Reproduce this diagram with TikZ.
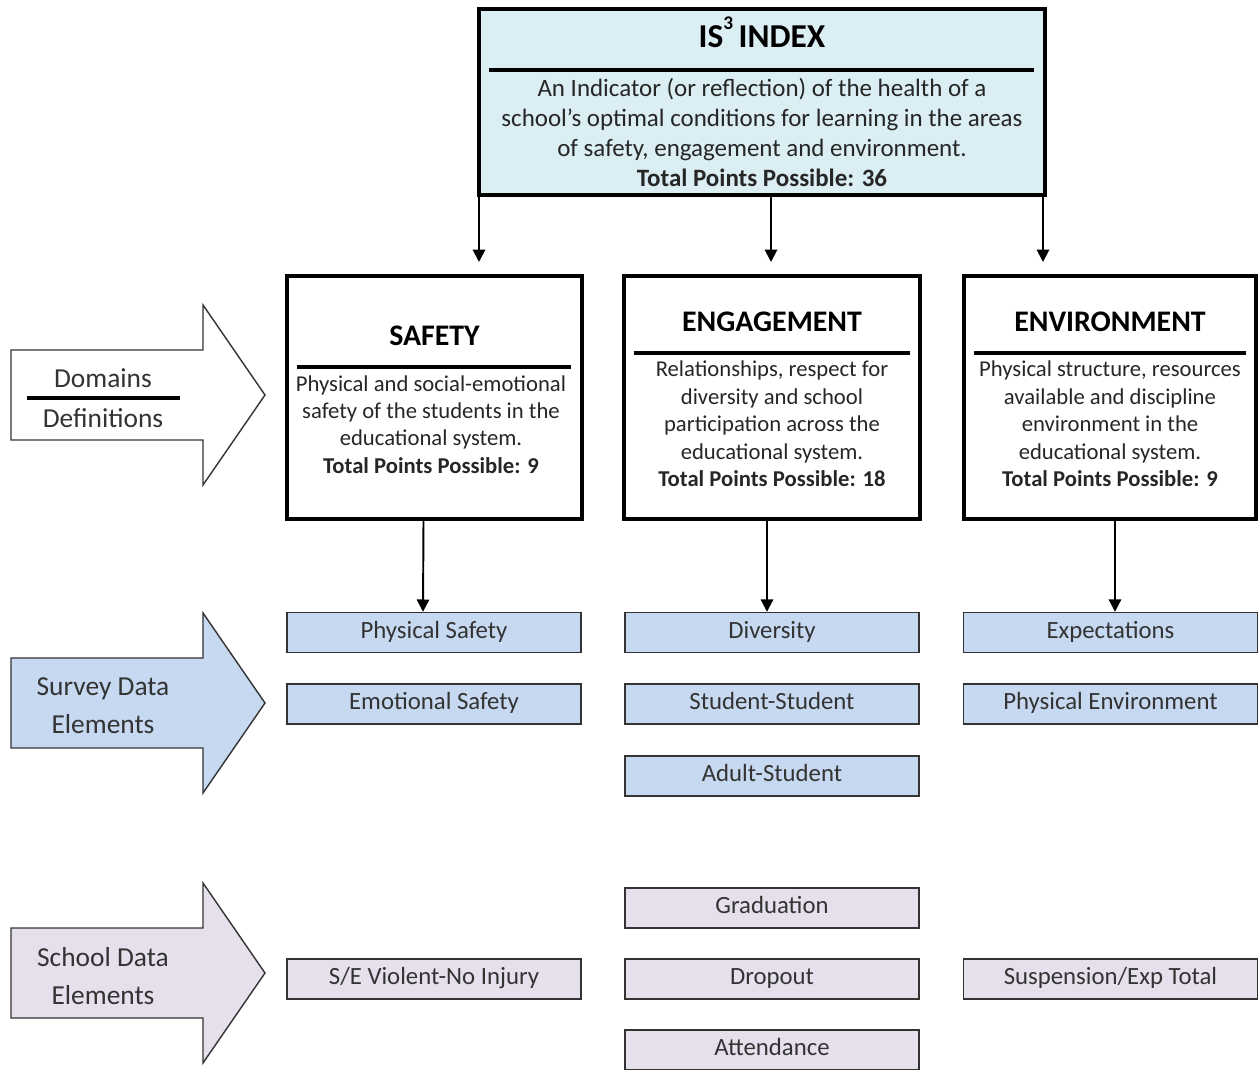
\documentclass[tikz,border=0pt]{standalone}
\usepackage{fontspec}
\setmainfont{Carlito}
\usetikzlibrary{arrows.meta}
\definecolor{indexblue}{HTML}{DAEEF3}
\definecolor{surveyblue}{HTML}{C6D9F1}
\definecolor{schoollilac}{HTML}{E5E0EC}

\begin{document}
\begin{tikzpicture}[
	bigbox/.style={draw,line width=2.2pt,inner sep=0pt},
	item/.style={draw=black!80,line width=0.8pt,minimum width=5.88cm,minimum height=0.8cm,inner sep=0pt,text height=0.68em,text depth=0pt,font=\fontsize{14.1}{16}\selectfont,text=black!80},
	survey/.style={item,fill=surveyblue},
	school/.style={item,fill=schoollilac},
	dtitle/.style={font=\fontsize{17}{20}\selectfont\bfseries},
	dtext/.style={align=center,font=\fontsize{12.9}{15.6}\selectfont,text=black!85},
	rulebar/.style={line width=2pt},
	arr/.style={line width=1.1pt,-{Triangle[width=7pt,length=7pt]}},
	side/.style={draw=black!80,line width=0.8pt},
	sidetext/.style={align=center,font=\fontsize{15.6}{21.5}\selectfont,text=black!80}]
	\useasboundingbox (0,0) rectangle (25.16,-21.4);

	\node[bigbox,fill=indexblue,minimum width=11.32cm,minimum height=3.72cm] (index) at (15.24,-2.04) {};
	\node[font=\fontsize{19}{22}\selectfont\bfseries] (indextitle) at (15.24,-0.64) {IS\raisebox{0.55em}{\fontsize{11}{11}\selectfont 3}\,INDEX};
	\draw[rulebar] (9.78,-1.4) -- (20.68,-1.4);
	\node[dtext,font=\fontsize{14.2}{17.2}\selectfont] (indextext) at (15.24,-2.65) {An Indicator (or reflection) of the health of a\\school's optimal conditions for learning in the areas\\of safety, engagement and environment.\\\textbf{Total Points Possible: 36}};

	\node[bigbox,minimum width=5.9cm,minimum height=4.86cm] (safety) at (8.69,-7.95) {};
	\node[bigbox,minimum width=5.92cm,minimum height=4.86cm] (engage) at (15.44,-7.95) {};
	\node[bigbox,minimum width=5.84cm,minimum height=4.86cm] (environ) at (22.2,-7.95) {};

	\coordinate (tipsafety) at (9.58,-5.24);
	\coordinate (tipengage) at (15.42,-5.24);
	\coordinate (tipenviron) at (20.86,-5.24);
	\draw[arr] (index.south -| tipsafety) -- (tipsafety);
	\draw[arr] (index.south -| tipengage) -- (tipengage);
	\draw[arr] (index.south -| tipenviron) -- (tipenviron);

	\node[dtitle] (safetytitle) at (8.69,-6.72) {SAFETY};
	\draw[rulebar] (5.94,-7.34) -- (11.42,-7.34);
	\node[dtext] (safetytext) at (8.62,-8.49) {Physical and social-emotional\\safety of the students in the\\educational system.\\\textbf{Total Points Possible: 9}};

	\node[dtitle] (engagetitle) at (15.44,-6.44) {ENGAGEMENT};
	\draw[rulebar] (12.68,-7.06) -- (18.2,-7.06);
	\node[dtext] (engagetext) at (15.44,-8.48) {Relationships, respect for\\diversity and school\\participation across the\\educational system.\\\textbf{Total Points Possible: 18}};

	\node[dtitle] (environtitle) at (22.2,-6.44) {ENVIRONMENT};
	\draw[rulebar] (19.48,-7.06) -- (24.92,-7.06);
	\node[dtext] (environtext) at (22.2,-8.48) {Physical structure, resources\\available and discipline\\environment in the\\educational system.\\\textbf{Total Points Possible: 9}};

	\node[survey] (physsafe) at (8.68,-12.65) {Physical Safety};
	\node[survey] (emosafe) at (8.68,-14.08) {Emotional Safety};
	\node[survey] (diversity) at (15.44,-12.65) {Diversity};
	\node[survey] (stustu) at (15.44,-14.08) {Student-Student};
	\node[survey] (adultstu) at (15.44,-15.52) {Adult-Student};
	\node[survey] (expect) at (22.21,-12.65) {Expectations};
	\node[survey] (physenv) at (22.21,-14.08) {Physical Environment};

	\node[school] (violent) at (8.68,-19.58) {S/E Violent-No Injury};
	\node[school] (grad) at (15.44,-18.16) {Graduation};
	\node[school] (dropout) at (15.44,-19.58) {Dropout};
	\node[school] (attend) at (15.44,-21.0) {Attendance};
	\node[school] (suspend) at (22.21,-19.58) {Suspension/Exp Total};

	\draw[arr] ([xshift=-0.22cm]safety.south) -- ([xshift=-0.22cm]physsafe.north);
	\draw[arr] ([xshift=-0.1cm]engage.south) -- ([xshift=-0.1cm]diversity.north);
	\draw[arr] ([xshift=0.1cm]environ.south) -- ([xshift=0.09cm]expect.north);

	\foreach \y/\c in {-7.9/white,-14.06/surveyblue,-19.46/schoollilac}
		\draw[side,fill=\c] (0.22,\y+0.9) -- (4.06,\y+0.9) -- (4.06,\y+1.8) -- (5.3,\y) -- (4.06,\y-1.8) -- (4.06,\y-0.9) -- (0.22,\y-0.9) -- cycle;

	\node[sidetext] (domlabel) at (2.06,-7.56) {Domains};
	\draw[rulebar] (0.54,-7.96) -- (3.6,-7.96);
	\node[sidetext] (deflabel) at (2.06,-8.36) {Definitions};
	\node[sidetext] (surveylabel) at (2.06,-14.12) {Survey Data\\Elements};
	\node[sidetext] (schoollabel) at (2.06,-19.52) {School Data\\Elements};
\end{tikzpicture}
\end{document}
